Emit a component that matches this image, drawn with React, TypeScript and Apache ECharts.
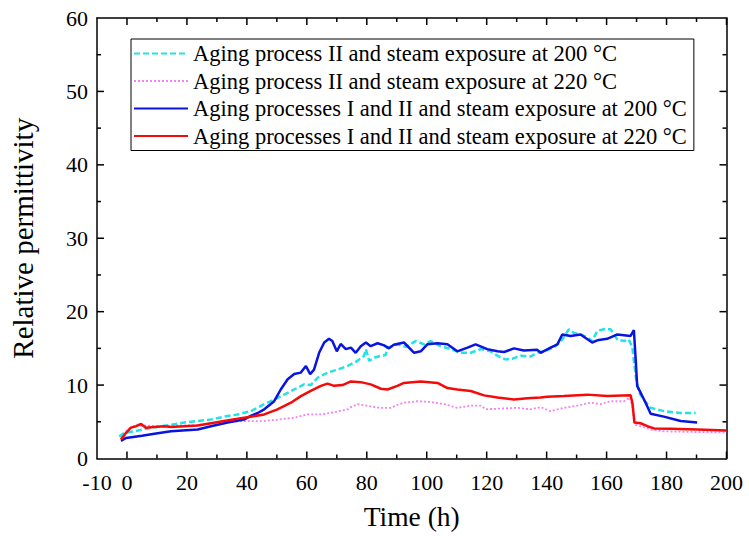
import React, { useEffect, useRef } from "react";
import * as echarts from "echarts";

// Time (h) and relative permittivity for each aging / steam-exposure condition
const cyanHours = [-2.6, -0.9, 2.4, 5.8, 10, 14.7, 19.1, 23.6, 28, 32.4, 36.9, 41.3, 45.8, 49.1, 52.4, 55.8, 59.1, 61.3, 63.6, 66.9, 70.2, 73.6, 76.9, 79.1, 79.7, 80.8, 82.4, 84.7, 86.3, 86.9, 90.2, 93, 96.3, 99.1, 101.3, 104.6, 108, 111.3, 114.7, 118, 121.3, 123.6, 126.3, 128.6, 131.3, 134.7, 136.9, 139.1, 142.4, 145.2, 147.4, 149.1, 151.3, 153.6, 155.2, 156.9, 159.1, 161.3, 163.6, 165.8, 167.4, 168.6, 169.7, 170.8, 172.4, 174.7, 179.1, 184.7, 189.7];
const cyanValues = [3.0, 3.5, 3.7, 4.0, 4.3, 4.6, 4.9, 5.1, 5.3, 5.7, 6.0, 6.45, 7.4, 8.0, 8.7, 9.4, 10.1, 10.0, 11.0, 11.7, 12.1, 12.6, 13.3, 14.0, 14.9, 13.3, 13.7, 14.0, 14.1, 15.1, 15.55, 15.2, 16.0, 15.55, 16.0, 15.3, 14.9, 14.4, 14.4, 14.9, 14.6, 14.0, 13.5, 13.6, 14.0, 13.9, 14.4, 14.6, 15.1, 16.2, 17.6, 17.1, 16.9, 16.5, 16.0, 17.4, 17.6, 17.6, 16.2, 16.0, 16.2, 15.1, 11.2, 9.0, 8.0, 6.9, 6.45, 6.2, 6.2];

const pinkHours = [-2, 0.2, 2.4, 5.8, 11.3, 16.9, 22.4, 28, 33.6, 39, 45.8, 50.2, 55.8, 60.2, 64.7, 69.1, 73.6, 74.7, 76.9, 81.3, 84.7, 88, 90.8, 92.4, 96.9, 101.3, 105.8, 110.2, 114.7, 118, 119.7, 124.7, 130.2, 134.7, 138, 141.3, 145.8, 150.2, 154.7, 158, 161.3, 165.8, 167.8, 168.6, 169.3, 171.3, 174.7, 179.1, 190.2, 200];
const pinkValues = [2.8, 3.95, 4.4, 4.5, 4.4, 4.5, 4.5, 4.8, 4.95, 5.1, 5.1, 5.3, 5.55, 6.0, 6.0, 6.3, 6.7, 7.0, 7.4, 7.1, 6.9, 6.9, 7.4, 7.6, 7.8, 7.7, 7.4, 6.9, 7.2, 7.2, 6.7, 6.8, 6.9, 6.7, 7.0, 6.45, 6.9, 7.2, 7.6, 7.4, 7.8, 7.8, 8.3, 7.0, 4.6, 4.4, 3.95, 3.7, 3.6, 3.55];

const blueHours = [-2, -0.3, 5, 9.7, 14.7, 23.6, 28, 33.6, 39, 41.3, 43.6, 45.8, 49.1, 51.3, 53.6, 55.8, 58, 59.7, 61.1, 62.4, 64.1, 65.8, 67.4, 68.5, 70, 71.3, 73, 74.7, 76.3, 78, 79.7, 81.3, 83.6, 85.8, 87.4, 89, 92.4, 95.8, 98, 100.2, 103.6, 106.9, 110.2, 113.6, 116.3, 120.2, 123.6, 125.8, 129.1, 132.4, 136.9, 138, 141.3, 143.6, 145.2, 148, 151.3, 155.2, 156.9, 160.2, 163.6, 165.8, 168, 169.1, 169.7, 170.2, 171.3, 173, 174.7, 179.1, 184.7, 190.2];
const blueValues = [2.4, 2.8, 3.1, 3.4, 3.7, 3.95, 4.4, 4.9, 5.3, 5.8, 6.2, 6.7, 7.8, 9.4, 10.8, 11.5, 11.7, 12.6, 11.5, 12.1, 14.4, 15.8, 16.3, 16.0, 14.6, 15.6, 14.9, 15.1, 14.4, 15.3, 15.8, 15.3, 15.7, 15.4, 15.0, 15.5, 15.8, 14.4, 14.6, 15.55, 15.7, 15.55, 14.6, 15.1, 15.55, 14.9, 14.6, 14.5, 15.0, 14.7, 14.8, 14.4, 15.1, 15.55, 16.9, 16.7, 16.9, 15.8, 16.1, 16.3, 16.9, 16.8, 16.7, 17.5, 13.5, 9.9, 9.0, 7.6, 6.1, 5.7, 5.1, 4.9];

const redHours = [-2, -0.3, 1.3, 3, 4.7, 6.3, 9.1, 12.4, 14.7, 19.1, 23.6, 28, 32.4, 36.9, 41.3, 45.8, 50.2, 54.7, 58, 61.3, 64.7, 66.9, 69.1, 71.9, 74.7, 78, 81.3, 84.7, 86.9, 90.2, 92.4, 98, 103.6, 106.9, 110.2, 114.7, 119.1, 123.6, 129.1, 133.6, 137.9, 140.2, 145.8, 153.6, 160.2, 168, 168.6, 169.3, 171.3, 173.6, 175.8, 181.3, 190.2, 200];
const redValues = [2.6, 3.5, 4.2, 4.4, 4.7, 4.2, 4.3, 4.4, 4.3, 4.4, 4.5, 4.8, 5.1, 5.4, 5.7, 6.0, 6.7, 7.6, 8.5, 9.2, 9.9, 10.2, 9.9, 10.0, 10.5, 10.4, 10.1, 9.5, 9.4, 9.9, 10.3, 10.5, 10.3, 9.6, 9.4, 9.2, 8.6, 8.3, 8.05, 8.2, 8.3, 8.4, 8.5, 8.7, 8.5, 8.6, 7.6, 4.9, 4.8, 4.4, 4.1, 4.05, 3.95, 3.8];

const seriesNames = [
  "Aging process II and steam exposure at 200 °C",
  "Aging process II and steam exposure at 220 °C",
  "Aging processes I and II and steam exposure at 200 °C",
  "Aging processes I and II and steam exposure at 220 °C",
];

const xLabelValues = [-10, 0, 20, 40, 60, 80, 100, 120, 140, 160, 180, 200];
const xMajorTicks = [0, 20, 40, 60, 80, 100, 120, 140, 160, 180, 200];
const xMinorTicks = [10, 30, 50, 70, 90, 110, 130, 150, 170, 190];
const yMajorTicks = [10, 20, 30, 40, 50];
const yMinorTicks = [5, 15, 25, 35, 45, 55];

const FONT = "'Liberation Serif', 'Times New Roman', serif";

const W = 749;
const H = 543;
const X_MIN = -10;
const X_MAX = 200;
const Y_MIN = 0;
const Y_MAX = 60;
const MAJOR_LEN = 7;
const MINOR_LEN = 4;

const zip = (xs: number[], ys: number[]) => xs.map((x, i) => [x, ys[i]]);

const TICK_STYLE = { stroke: "#000", lineWidth: 1.5 };

// Inward tick marks along the bottom and top edges for x-axis values.
const renderXTicks = (_params: any, api: any) => {
  const v = api.value(0);
  const len = api.value(1);
  const b = api.coord([v, Y_MIN]);
  const t = api.coord([v, Y_MAX]);
  return {
    type: "group",
    children: [
      { type: "line", shape: { x1: b[0], y1: b[1], x2: b[0], y2: b[1] - len }, style: TICK_STYLE },
      { type: "line", shape: { x1: t[0], y1: t[1], x2: t[0], y2: t[1] + len }, style: TICK_STYLE },
    ],
  };
};

// Inward tick marks along the left and right edges for y-axis values.
const renderYTicks = (_params: any, api: any) => {
  const v = api.value(1);
  const len = api.value(0);
  const l = api.coord([X_MIN, v]);
  const r = api.coord([X_MAX, v]);
  return {
    type: "group",
    children: [
      { type: "line", shape: { x1: l[0], y1: l[1], x2: l[0] + len, y2: l[1] }, style: TICK_STYLE },
      { type: "line", shape: { x1: r[0], y1: r[1], x2: r[0] - len, y2: r[1] }, style: TICK_STYLE },
    ],
  };
};

export default function App() {
  const ref = useRef<HTMLDivElement>(null);

  useEffect(() => {
    if (!ref.current) return;
    const chart = echarts.init(ref.current, null, { renderer: "svg" });

    const line = () => ({ show: true, onZero: false, lineStyle: { color: "#000", width: 1.5 } });

    const xTickData = [
      ...xMajorTicks.map((v) => [v, MAJOR_LEN]),
      ...xMinorTicks.map((v) => [v, MINOR_LEN]),
    ];
    const yTickData = [
      ...yMajorTicks.map((v) => [MAJOR_LEN, v]),
      ...yMinorTicks.map((v) => [MINOR_LEN, v]),
    ];

    chart.setOption({
      animation: false,
      backgroundColor: "#fff",
      textStyle: { fontFamily: FONT },
      grid: { left: 94.5, right: 22.5, top: 18, bottom: 84.5 },
      legend: {
        orient: "vertical",
        left: 131,
        top: 39,
        itemWidth: 54,
        itemHeight: 2,
        itemGap: 4.5,
        padding: [3, 7, 3, 2],
        borderColor: "#000",
        borderWidth: 1,
        backgroundColor: "#fff",
        itemStyle: { opacity: 0 },
        textStyle: { fontFamily: FONT, fontSize: 22.5, color: "#000" },
        data: seriesNames,
      },
      xAxis: [
        {
          type: "value",
          min: X_MIN,
          max: X_MAX,
          interval: 10,
          position: "bottom",
          splitLine: { show: false },
          axisLine: line(),
          axisTick: { show: false },
          name: "Time (h)",
          nameLocation: "middle",
          nameGap: 44,
          nameTextStyle: { fontFamily: FONT, fontSize: 27.5, color: "#000" },
          axisLabel: { show: true, customValues: xLabelValues, fontFamily: FONT, fontSize: 22, color: "#000", margin: 13 },
        },
        {
          type: "value",
          min: X_MIN,
          max: X_MAX,
          interval: 10,
          position: "top",
          splitLine: { show: false },
          axisLine: line(),
          axisTick: { show: false },
          axisLabel: { show: false },
        },
      ],
      yAxis: [
        {
          type: "value",
          min: Y_MIN,
          max: Y_MAX,
          interval: 10,
          position: "left",
          splitLine: { show: false },
          axisLine: line(),
          axisTick: { show: false },
          name: "Relative permittivity",
          nameLocation: "middle",
          nameGap: 60,
          nameTextStyle: { fontFamily: FONT, fontSize: 29, color: "#000" },
          axisLabel: { show: true, fontFamily: FONT, fontSize: 22, color: "#000", margin: 9 },
        },
        {
          type: "value",
          min: Y_MIN,
          max: Y_MAX,
          interval: 10,
          position: "right",
          splitLine: { show: false },
          axisLine: line(),
          axisTick: { show: false },
          axisLabel: { show: false },
        },
      ],
      series: [
        {
          name: seriesNames[0],
          type: "line",
          symbol: "none",
          data: zip(cyanHours, cyanValues),
          lineStyle: { color: "#22e2e6", width: 2.5, type: [6, 3] },
          itemStyle: { color: "#22e2e6" },
          z: 3,
        },
        {
          name: seriesNames[1],
          type: "line",
          symbol: "none",
          data: zip(pinkHours, pinkValues),
          lineStyle: { color: "#f283f0", width: 1.8, type: [2, 2] },
          itemStyle: { color: "#f283f0" },
          z: 2,
        },
        {
          name: seriesNames[2],
          type: "line",
          symbol: "none",
          data: zip(blueHours, blueValues),
          lineStyle: { color: "#0a14e0", width: 2.5 },
          itemStyle: { color: "#0a14e0" },
          z: 4,
        },
        {
          name: seriesNames[3],
          type: "line",
          symbol: "none",
          data: zip(redHours, redValues),
          lineStyle: { color: "#f50a0a", width: 2.5 },
          itemStyle: { color: "#f50a0a" },
          z: 5,
        },
        {
          id: "x-ticks",
          type: "custom",
          silent: true,
          clip: false,
          z: 10,
          encode: { x: 0, y: 1 },
          renderItem: renderXTicks,
          data: xTickData,
        },
        {
          id: "y-ticks",
          type: "custom",
          silent: true,
          clip: false,
          z: 10,
          encode: { x: 0, y: 1 },
          renderItem: renderYTicks,
          data: yTickData,
        },
      ],
    });

    return () => chart.dispose();
  }, []);

  return (
    <div
      ref={ref}
      style={{ position: "absolute", left: 0, top: 0, width: W, height: H }}
    />
  );
}
